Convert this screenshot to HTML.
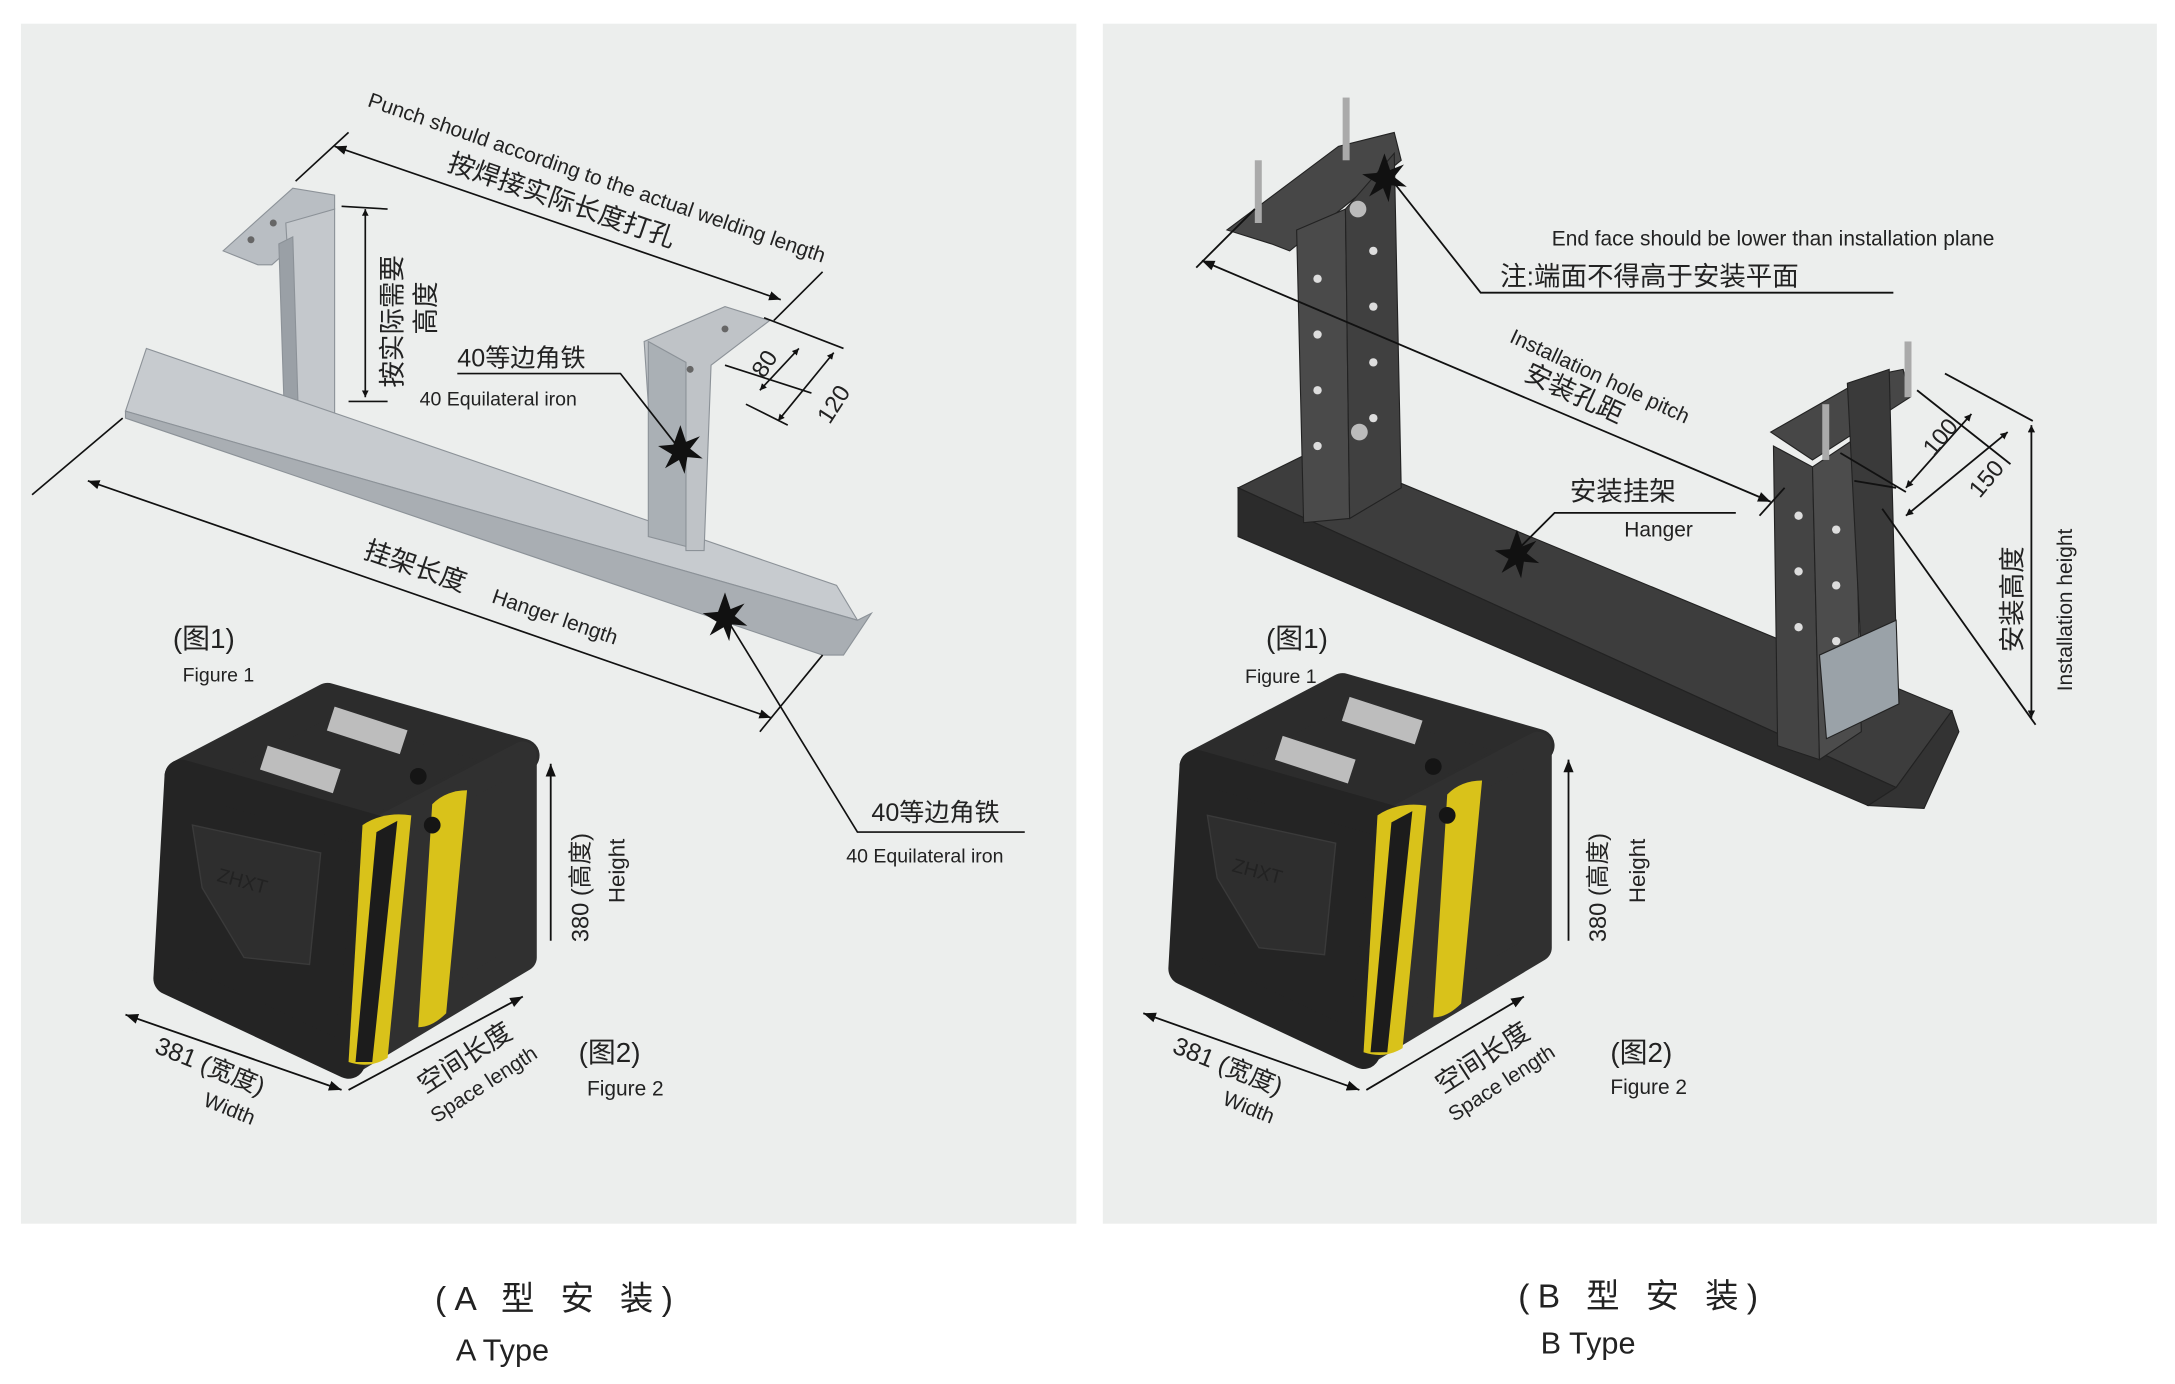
<!DOCTYPE html>
<html><head><meta charset="utf-8"><style>
html,body{margin:0;padding:0;background:#fff}
svg{display:block}
text{font-family:"Liberation Sans","Noto Sans CJK SC",sans-serif;fill:#222}
</style></head><body>
<svg width="2175" height="1384" viewBox="0 0 1560 993" preserveAspectRatio="none" xmlns="http://www.w3.org/2000/svg">
<defs>
<marker id="ar" viewBox="0 0 10 10" refX="10" refY="5" markerWidth="7" markerHeight="7" orient="auto-start-reverse"><path d="M0,1 L10,5 L0,9 z" fill="#111"/></marker>
<marker id="ab" viewBox="0 0 10 10" refX="10" refY="5" markerWidth="4" markerHeight="4" orient="auto-start-reverse"><path d="M0,0 L10,5 L0,10 z" fill="#111"/></marker>
<g id="box">
<!-- top -->
<polygon points="20,60 125,5 265,45 160,100" fill="#2c2c2c" stroke="#2c2c2c" stroke-width="24" stroke-linejoin="round"/>
<!-- side -->
<polygon points="160,100 265,45 265,190 140,265" fill="#303030" stroke="#303030" stroke-width="20" stroke-linejoin="round"/>
<!-- front -->
<polygon points="20,60 160,100 140,265 12,205" fill="#242424" stroke="#242424" stroke-width="24" stroke-linejoin="round"/>
<path d="M150,95 Q165,85 185,88 L168,262 Q155,270 140,265z" fill="#d9c21a"/>
<path d="M200,80 Q210,70 225,70 L210,230 Q200,240 190,240z" fill="#d9c21a"/>
<path d="M160,100 L175,92 L157,265 L145,265z" fill="#1c1c1c"/>
<polygon points="28,95 120,115 112,195 65,190 35,140" fill="#2e2e2e" stroke="#3a3a3a"/>
<text x="45" y="135" font-size="14" fill="#555" transform="rotate(15 45 135)">ZHXT</text>
<rect x="130" y="10" width="55" height="18" fill="#bdbdbd" transform="rotate(18 130 10)"/>
<rect x="82" y="38" width="55" height="18" fill="#bdbdbd" transform="rotate(18 82 38)"/>
<circle cx="190" cy="60" r="6" fill="#151515"/><circle cx="200" cy="95" r="6" fill="#151515"/>
</g>
</defs>
<rect width="1560" height="993" fill="#fff"/>
<rect x="15" y="17" width="757" height="861" fill="#eceeed"/>
<rect x="791" y="17" width="756" height="861" fill="#eceeed"/>

<!-- ===== A: angle iron ===== -->
<g stroke="#8c9298" stroke-width="0.8">
<polygon points="160,180 210,135 240,140 240,150 195,190 185,190" fill="#b9bec3"/>
<polygon points="205,160 240,150 240,325 215,330" fill="#c4c8cc"/>
<polygon points="200,175 210,170 215,330 205,330" fill="#9aa0a6"/>
<polygon points="90,295 105,250 600,420 615,445" fill="#c7cbcf"/>
<polygon points="90,295 615,445 625,440 605,470 590,470 90,300" fill="#a9aeb3"/>
<polygon points="462,245 520,220 552,230 510,262 505,395 492,395 490,280 465,290" fill="#bfc3c7"/>
<polygon points="465,245 492,260 492,392 465,385" fill="#aab0b5"/>
</g>
<circle cx="180" cy="172" r="2.5" fill="#666"/><circle cx="196" cy="160" r="2.5" fill="#666"/>
<circle cx="520" cy="236" r="2.5" fill="#666"/><circle cx="495" cy="265" r="2.5" fill="#666"/>

<g stroke="#111" stroke-width="1.2" fill="none">
<line x1="240" y1="105" x2="560" y2="215" marker-start="url(#ar)" marker-end="url(#ar)"/>
<line x1="250" y1="95" x2="212" y2="130"/><line x1="590" y1="195" x2="555" y2="230"/>
<line x1="262" y1="150" x2="262" y2="285" marker-start="url(#ab)" marker-end="url(#ab)"/>
<line x1="245" y1="148" x2="278" y2="150"/><line x1="250" y1="288" x2="278" y2="288"/>
<line x1="548" y1="228" x2="605" y2="250"/><line x1="520" y1="262" x2="582" y2="282"/>
<line x1="573" y1="250" x2="545" y2="280" marker-start="url(#ab)" marker-end="url(#ab)"/>
<line x1="598" y1="253" x2="558" y2="302" marker-start="url(#ab)" marker-end="url(#ab)"/>
<line x1="535" y1="290" x2="565" y2="305"/>
<line x1="63" y1="345" x2="553" y2="515" marker-start="url(#ar)" marker-end="url(#ar)"/>
<line x1="88" y1="300" x2="23" y2="355"/><line x1="590" y1="470" x2="545" y2="525"/>
<polyline points="328,268 445,268 488,323"/>
<polyline points="735,597 615,597 520,442"/>
</g>
<g fill="#111"><path d="M488,305 l4,12 10,-4 -7,9 9,7 -11,-1 -2,12 -4,-10 -10,6 5,-10 -10,-6 11,-1z"/>
<path d="M520,425 l4,12 10,-4 -7,9 9,7 -11,-1 -2,12 -4,-10 -10,6 5,-10 -10,-6 11,-1z"/></g>

<text transform="translate(263,76) rotate(19)" font-size="15">Punch should according to the actual welding length</text>
<text transform="translate(320,122) rotate(19)" font-size="19">按焊接实际长度打孔</text>
<text transform="translate(288,278) rotate(-90)" font-size="19">按实际需要</text>
<text transform="translate(312,240) rotate(-90)" font-size="19">高度</text>
<text x="328" y="263" font-size="18">40等边角铁</text>
<text x="301" y="291" font-size="14">40 Equilateral iron</text>
<text transform="translate(548,272) rotate(-57)" font-size="17">80</text>
<text transform="translate(595,305) rotate(-57)" font-size="17">120</text>
<text transform="translate(260,400) rotate(19)" font-size="19">挂架长度</text>
<text transform="translate(352,432) rotate(19)" font-size="15">Hanger length</text>
<text x="625" y="589" font-size="18">40等边角铁</text>
<text x="607" y="619" font-size="14">40 Equilateral iron</text>
<text x="124" y="465" font-size="20">(图1)</text>
<text x="131" y="489" font-size="14">Figure 1</text>

<use href="#box" x="110" y="497"/>
<g stroke="#111" stroke-width="1.3" fill="none">
<line x1="395" y1="675" x2="395" y2="548" marker-end="url(#ar)"/>
<line x1="90" y1="728" x2="245" y2="782" marker-start="url(#ar)" marker-end="url(#ar)"/>
<line x1="250" y1="782" x2="375" y2="715" marker-end="url(#ar)"/>
</g>
<text transform="translate(422,676) rotate(-90)" font-size="17">380 (高度)</text>
<text transform="translate(448,648) rotate(-90)" font-size="16">Height</text>
<text transform="translate(110,755) rotate(22)" font-size="18">381 (宽度)</text>
<text transform="translate(145,793) rotate(22)" font-size="15">Width</text>
<text transform="translate(305,785) rotate(-33)" font-size="19">空间长度</text>
<text transform="translate(313,806) rotate(-33)" font-size="15">Space length</text>
<text x="415" y="762" font-size="20">(图2)</text>
<text x="421" y="786" font-size="15">Figure 2</text>

<!-- ===== B: hanger ===== -->
<g stroke="#222" stroke-width="0.8">
<polygon points="888,350 945,322 1400,510 1360,565" fill="#3d3d3d"/>
<polygon points="888,350 1360,565 1340,578 888,385" fill="#2b2b2b"/>
<polygon points="1360,565 1400,510 1405,525 1380,580 1340,578" fill="#333"/>
<polygon points="880,165 960,105 1000,95 1005,115 925,180 912,175" fill="#474747"/>
<polygon points="930,165 965,150 968,372 935,375" fill="#4a4a4a"/>
<polygon points="965,150 1000,110 1005,350 968,372" fill="#404040"/>
<polygon points="1270,310 1340,270 1365,265 1370,285 1300,330" fill="#474747"/>
<polygon points="1272,320 1300,335 1305,545 1275,535" fill="#444"/>
<polygon points="1300,335 1330,315 1335,525 1305,545" fill="#4c4c4c"/>
<polygon points="1325,275 1355,265 1360,460 1335,470" fill="#3a3a3a"/>
<polygon points="1305,470 1360,445 1362,505 1310,530" fill="#9aa2a8"/>
</g>
<g fill="#aaa"><rect x="900" y="115" width="5" height="45"/><rect x="963" y="70" width="5" height="45"/><rect x="1307" y="290" width="5" height="40"/><rect x="1366" y="245" width="5" height="40"/></g>
<g fill="#ddd"><circle cx="945" cy="200" r="3"/><circle cx="945" cy="240" r="3"/><circle cx="945" cy="280" r="3"/><circle cx="945" cy="320" r="3"/><circle cx="985" cy="180" r="3"/><circle cx="985" cy="220" r="3"/><circle cx="985" cy="260" r="3"/><circle cx="985" cy="300" r="3"/><circle cx="1290" cy="370" r="3"/><circle cx="1290" cy="410" r="3"/><circle cx="1290" cy="450" r="3"/><circle cx="1317" cy="380" r="3"/><circle cx="1317" cy="420" r="3"/><circle cx="1317" cy="460" r="3"/></g>
<circle cx="974" cy="150" r="6" fill="#bbb"/><circle cx="975" cy="310" r="6" fill="#bbb"/>

<g stroke="#111" stroke-width="1.3" fill="none">
<line x1="862" y1="187" x2="1270" y2="360" marker-start="url(#ar)" marker-end="url(#ar)"/>
<line x1="900" y1="150" x2="858" y2="192"/><line x1="1280" y1="350" x2="1262" y2="370"/>
<polyline points="995,125 1062,210 1358,210"/>
<polyline points="1245,368 1115,368 1088,395"/>
<line x1="1375" y1="280" x2="1442" y2="333"/><line x1="1395" y1="268" x2="1458" y2="302"/>
<line x1="1320" y1="325" x2="1367" y2="353"/><line x1="1350" y1="365" x2="1460" y2="520"/>
<line x1="1330" y1="345" x2="1360" y2="350"/>
<line x1="1414" y1="297" x2="1367" y2="350" marker-start="url(#ab)" marker-end="url(#ab)"/>
<line x1="1440" y1="310" x2="1367" y2="370" marker-start="url(#ab)" marker-end="url(#ab)"/>
<line x1="1457" y1="305" x2="1457" y2="515" marker-start="url(#ab)" marker-end="url(#ab)"/>
</g>
<g fill="#111"><path d="M993,110 l4,12 10,-4 -7,9 9,7 -11,-1 -2,12 -4,-10 -10,6 5,-10 -10,-6 11,-1z"/>
<path d="M1088,380 l4,12 10,-4 -7,9 9,7 -11,-1 -2,12 -4,-10 -10,6 5,-10 -10,-6 11,-1z"/></g>

<text x="1113" y="176" font-size="15">End face should be lower than installation plane</text>
<text x="1076" y="205" font-size="19">注:端面不得高于安装平面</text>
<text transform="translate(1082,245) rotate(25)" font-size="15">Installation hole pitch</text>
<text transform="translate(1092,272) rotate(25)" font-size="19">安装孔距</text>
<text x="1126" y="359" font-size="19">安装挂架</text>
<text x="1165" y="385" font-size="15">Hanger</text>
<text transform="translate(1387,328) rotate(-50)" font-size="17">100</text>
<text transform="translate(1420,358) rotate(-50)" font-size="17">150</text>
<text transform="translate(1450,468) rotate(-90)" font-size="19">安装高度</text>
<text transform="translate(1486,496) rotate(-90)" font-size="15">Installation height</text>
<text x="908" y="465" font-size="20">(图1)</text>
<text x="893" y="490" font-size="14">Figure 1</text>

<use href="#box" x="838" y="490"/>
<g stroke="#111" stroke-width="1.3" fill="none">
<line x1="1125" y1="675" x2="1125" y2="545" marker-end="url(#ar)"/>
<line x1="820" y1="727" x2="975" y2="782" marker-start="url(#ar)" marker-end="url(#ar)"/>
<line x1="980" y1="782" x2="1093" y2="715" marker-end="url(#ar)"/>
</g>
<text transform="translate(1152,676) rotate(-90)" font-size="17">380 (高度)</text>
<text transform="translate(1180,648) rotate(-90)" font-size="16">Height</text>
<text transform="translate(840,755) rotate(22)" font-size="18">381 (宽度)</text>
<text transform="translate(876,792) rotate(22)" font-size="15">Width</text>
<text transform="translate(1035,785) rotate(-33)" font-size="19">空间长度</text>
<text transform="translate(1043,805) rotate(-33)" font-size="15">Space length</text>
<text x="1155" y="762" font-size="20">(图2)</text>
<text x="1155" y="785" font-size="15">Figure 2</text>

<text x="312" y="940" font-size="24" letter-spacing="6">(A 型 安 装)</text>
<text x="327" y="976" font-size="22">A Type</text>
<text x="1089" y="938" font-size="24" letter-spacing="6">(B 型 安 装)</text>
<text x="1105" y="971" font-size="22">B Type</text>
</svg>
</body></html>
